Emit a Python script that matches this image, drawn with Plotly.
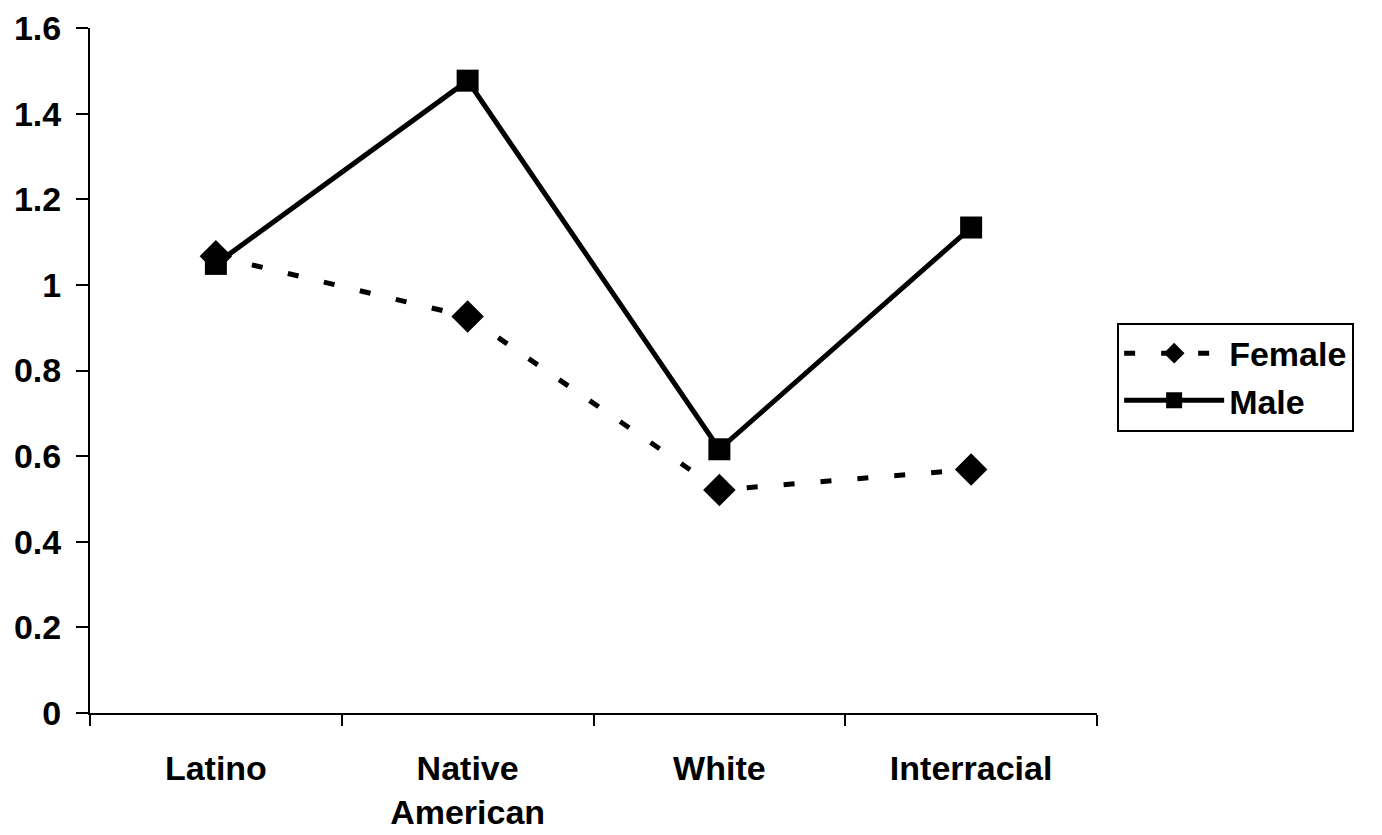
import plotly.graph_objects as go

categories = ["Latino", "Native<br>American", "White", "Interracial"]
female = [1.067, 0.926, 0.521, 0.569]
male = [1.049, 1.477, 0.616, 1.134]
y_ticks = [0, 0.2, 0.4, 0.6, 0.8, 1, 1.2, 1.4, 1.6]
y_tick_labels = ["0", "0.2", "0.4", "0.6", "0.8", "1", "1.2", "1.4", "1.6"]

FONT = "Liberation Sans, Arial, sans-serif"

fig = go.Figure()
fig.add_trace(go.Scatter(
    x=[0, 1, 2, 3], y=female, name="<b>Female</b>", mode="lines+markers",
    line=dict(color="black", width=5, dash="11px,26px"),
    marker=dict(symbol="diamond", size=25, color="black"),
))
fig.add_trace(go.Scatter(
    x=[0, 1, 2, 3], y=male, name="<b>Male</b>", mode="lines+markers",
    line=dict(color="black", width=5),
    marker=dict(symbol="square", size=22, color="black"),
))

fig.update_layout(
    width=1374, height=827,
    margin=dict(l=82, r=285, t=20, b=122),
    paper_bgcolor="white", plot_bgcolor="white",
    font=dict(family=FONT, size=34, color="black"),
    showlegend=True,
    legend=dict(
        x=1.02, y=0.57, xanchor="left", yanchor="top",
        bordercolor="black", borderwidth=2, bgcolor="white",
        font=dict(family=FONT, size=34, color="black"),
        tracegroupgap=0, itemwidth=100,
    ),
)
fig.update_xaxes(
    range=[-0.5, 3.5], automargin=False,
    tickmode="array", tickvals=[0, 1, 2, 3],
    ticktext=["<b>%s</b>" % c for c in categories],
    showline=True, linecolor="black", linewidth=2,
    showgrid=False, zeroline=False,
    ticks="", ticklabelstandoff=24, ticklabeloverflow="allow",
    tickfont=dict(family=FONT, size=34, color="black"),
    minor=dict(tickvals=[-0.5, 0.5, 1.5, 2.5, 3.5], ticks="outside",
               ticklen=11, tickwidth=2, tickcolor="black"),
)
fig.update_yaxes(
    range=[0, 1.6], automargin=False,
    tickmode="array", tickvals=y_ticks,
    ticktext=["<b>%s</b>" % t for t in y_tick_labels],
    showline=True, linecolor="black", linewidth=2,
    showgrid=False, zeroline=False,
    ticks="outside", ticklen=12, tickwidth=2, tickcolor="black",
    ticklabelstandoff=8, ticklabeloverflow="allow",
    tickfont=dict(family=FONT, size=34, color="black"),
)

fig.write_html("out.html")
